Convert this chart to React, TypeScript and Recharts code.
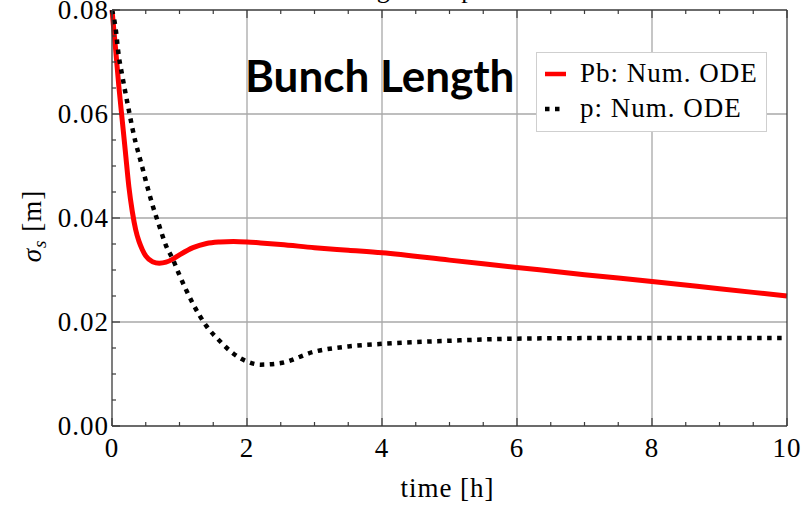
import { Legend, Line, LineChart, ReferenceLine, XAxis, YAxis } from 'recharts'

// time [h]
const TIME = [
  0, 0.05, 0.1, 0.15, 0.2, 0.25, 0.3, 0.35, 0.4, 0.45, 0.5, 0.6, 0.7, 0.8, 0.9, 1.0, 1.2, 1.4, 1.6,
  1.8, 2.0, 2.2, 2.5, 3.0, 3.5, 4.0, 5.0, 6.0, 7.0, 8.0, 9.0, 10.0,
]
// sigma_s [m], Pb
const PB = [
  0.08, 0.073, 0.0655, 0.059, 0.0525, 0.046, 0.0413, 0.0378, 0.0355, 0.0339, 0.0327, 0.0316, 0.0313,
  0.0315, 0.0321, 0.0329, 0.0343, 0.0351, 0.0354, 0.0355, 0.0354, 0.0352, 0.0349, 0.0343, 0.0338,
  0.0333, 0.0319, 0.0305, 0.0291, 0.0278, 0.0264, 0.025,
]
// sigma_s [m], p
const P = [
  0.08, 0.0768, 0.0712, 0.0675, 0.064, 0.0607, 0.0574, 0.0545, 0.0521, 0.0497, 0.0472, 0.0425,
  0.0385, 0.0347, 0.0321, 0.029, 0.0235, 0.0192, 0.0163, 0.0139, 0.0124, 0.0118, 0.0121, 0.0143,
  0.0153, 0.0158, 0.0164, 0.0168, 0.0169, 0.0169, 0.0169, 0.0169,
]

const X_TICKS = [0, 0.5, 1, 1.5, 2, 2.5, 3, 3.5, 4, 4.5, 5, 5.5, 6, 6.5, 7, 7.5, 8, 8.5, 9, 9.5, 10]
const Y_TICKS = [
  0, 0.005, 0.01, 0.015, 0.02, 0.025, 0.03, 0.035, 0.04, 0.045, 0.05, 0.055, 0.06, 0.065, 0.07,
  0.075, 0.08,
]
const X_GRID = [2, 4, 6, 8]
const Y_GRID = [0.02, 0.04, 0.06]

const SERIES = [
  { key: 'pb', name: 'Pb: Num. ODE', color: '#ff0000', dash: undefined },
  { key: 'p', name: 'p: Num. ODE', color: '#000000', dash: '4.5 5.5' },
]

const data = TIME.map((t, i) => ({ t, pb: PB[i], p: P[i] }))

const FRAME = '#3a3a3a'
const GRID = '#a8a8a8'
const SERIF = '"Liberation Serif", "Times New Roman", serif'

const labelStyle = {
  fontFamily: SERIF,
  fontSize: 27,
  letterSpacing: 1,
  fill: '#000',
} as const

const isMajorX = (v: number) => v % 2 === 0
const isMajorY = (v: number) => Math.abs(v * 50 - Math.round(v * 50)) < 1e-6

interface TickProps {
  x?: number
  y?: number
  payload?: { value: number }
}

function BottomTick({ x = 0, y = 0, payload }: TickProps) {
  const v = payload?.value ?? 0
  const major = isMajorX(v)
  return (
    <g>
      <line x1={x} x2={x} y1={y} y2={y - (major ? 8 : 4)} stroke={FRAME} strokeWidth={1.2} />
      {major && (
        <text x={x} y={y + 31} textAnchor="middle" style={labelStyle}>
          {v}
        </text>
      )}
    </g>
  )
}

function TopTick({ x = 0, y = 0, payload }: TickProps) {
  const major = isMajorX(payload?.value ?? 0)
  return <line x1={x} x2={x} y1={y} y2={y + (major ? 8 : 4)} stroke={FRAME} strokeWidth={1.2} />
}

function LeftTick({ x = 0, y = 0, payload }: TickProps) {
  const v = payload?.value ?? 0
  const major = isMajorY(v)
  return (
    <g>
      <line x1={x} x2={x + (major ? 8 : 4)} y1={y} y2={y} stroke={FRAME} strokeWidth={1.2} />
      {major && (
        <text x={x - 3} y={y + 9} textAnchor="end" style={labelStyle}>
          {v.toFixed(2)}
        </text>
      )}
    </g>
  )
}

function RightTick({ x = 0, y = 0, payload }: TickProps) {
  const major = isMajorY(payload?.value ?? 0)
  return <line x1={x} x2={x - (major ? 8 : 4)} y1={y} y2={y} stroke={FRAME} strokeWidth={1.2} />
}

interface LabelProps {
  viewBox?: { x: number; y: number; width: number; height: number }
}

function XLabel({ viewBox }: LabelProps) {
  if (!viewBox) return null
  return (
    <text x={viewBox.x + viewBox.width / 2 - 2} y={viewBox.y + 71} textAnchor="middle" style={labelStyle}>
      time [h]
    </text>
  )
}

function YLabel({ viewBox }: LabelProps) {
  if (!viewBox) return null
  const cx = 41
  const cy = 226
  return (
    <text
      x={cx}
      y={cy}
      textAnchor="middle"
      transform={`rotate(-90, ${cx}, ${cy})`}
      style={labelStyle}
    >
      <tspan fontStyle="italic">σ</tspan>
      <tspan fontStyle="italic" fontSize={19} dy={5}>
        s
      </tspan>
      <tspan dy={-5}> [m]</tspan>
    </text>
  )
}

function LegendBox() {
  return (
    <div
      style={{
        boxSizing: 'border-box',
        width: 231,
        height: 80,
        border: '1.5px solid #cfcfcf',
        background: '#fff',
        paddingTop: 3,
      }}
    >
      {SERIES.map((s) => (
        <div key={s.key} style={{ display: 'flex', alignItems: 'center', height: 35 }}>
          <svg width={30} height={10} style={{ marginLeft: 7, marginRight: 6 }}>
            <line
              x1={1}
              x2={s.dash ? 18 : 22}
              y1={5}
              y2={5}
              stroke={s.color}
              strokeWidth={4.5}
              strokeDasharray={s.dash}
            />
          </svg>
          <span
            style={{
              fontFamily: SERIF,
              fontSize: 27,
              letterSpacing: 1,
              color: '#000',
              lineHeight: '35px',
              whiteSpace: 'nowrap',
            }}
          >
            {s.name}
          </span>
        </div>
      ))}
    </div>
  )
}

export default function App() {
  return (
    <div style={{ position: 'absolute', left: 0, top: 0, width: 812, height: 506, background: '#fff' }}>
      <LineChart width={812} height={506} data={data} margin={{ top: 9, right: 24, bottom: 0, left: 0 }}>
        <XAxis
          xAxisId="b"
          dataKey="t"
          type="number"
          domain={[0, 10]}
          ticks={X_TICKS}
          interval={0}
          height={80}
          tickSize={0}
          tickMargin={0}
          tickLine={false}
          axisLine={{ stroke: FRAME, strokeWidth: 1.3 }}
          tick={<BottomTick />}
          label={<XLabel />}
        />
        <XAxis
          xAxisId="t"
          orientation="top"
          dataKey="t"
          type="number"
          domain={[0, 10]}
          ticks={X_TICKS}
          interval={0}
          height={1}
          tickSize={0}
          tickMargin={0}
          tickLine={false}
          axisLine={{ stroke: FRAME, strokeWidth: 1.3 }}
          tick={<TopTick />}
        />
        <YAxis
          yAxisId="l"
          type="number"
          domain={[0, 0.08]}
          ticks={Y_TICKS}
          interval={0}
          width={112}
          tickSize={0}
          tickMargin={0}
          tickLine={false}
          axisLine={{ stroke: FRAME, strokeWidth: 1.3 }}
          tick={<LeftTick />}
          label={<YLabel />}
        />
        <YAxis
          yAxisId="r"
          orientation="right"
          type="number"
          domain={[0, 0.08]}
          ticks={Y_TICKS}
          interval={0}
          width={1}
          tickSize={0}
          tickMargin={0}
          tickLine={false}
          axisLine={{ stroke: FRAME, strokeWidth: 1.3 }}
          tick={<RightTick />}
        />
        {X_GRID.map((v) => (
          <ReferenceLine key={`x${v}`} x={v} xAxisId="b" yAxisId="l" stroke={GRID} strokeWidth={1.3} />
        ))}
        {Y_GRID.map((v) => (
          <ReferenceLine key={`y${v}`} y={v} xAxisId="b" yAxisId="l" stroke={GRID} strokeWidth={1.3} />
        ))}
        {SERIES.map((s) => (
          <Line
            key={s.key}
            xAxisId="b"
            yAxisId="l"
            type="monotone"
            dataKey={s.key}
            name={s.name}
            stroke={s.color}
            strokeWidth={s.dash ? 4.5 : 5}
            strokeDasharray={s.dash}
            strokeLinecap="butt"
            dot={false}
            activeDot={false}
            isAnimationActive={false}
          />
        ))}
        <Legend
          layout="vertical"
          align="center"
          verticalAlign="middle"
          wrapperStyle={{ left: 536, top: 52, width: 231, height: 80 }}
          content={<LegendBox />}
        />
        <text x={245} y={92} fontFamily="Lato, 'Open Sans', sans-serif" fontWeight={700} fontSize={44} fill="#000">
          Bunch Length
        </text>
        <text x={262} y={-2} style={{ ...labelStyle, fontSize: 26, letterSpacing: 0 }}>
          Bunch Length comparison
        </text>
      </LineChart>
    </div>
  )
}
